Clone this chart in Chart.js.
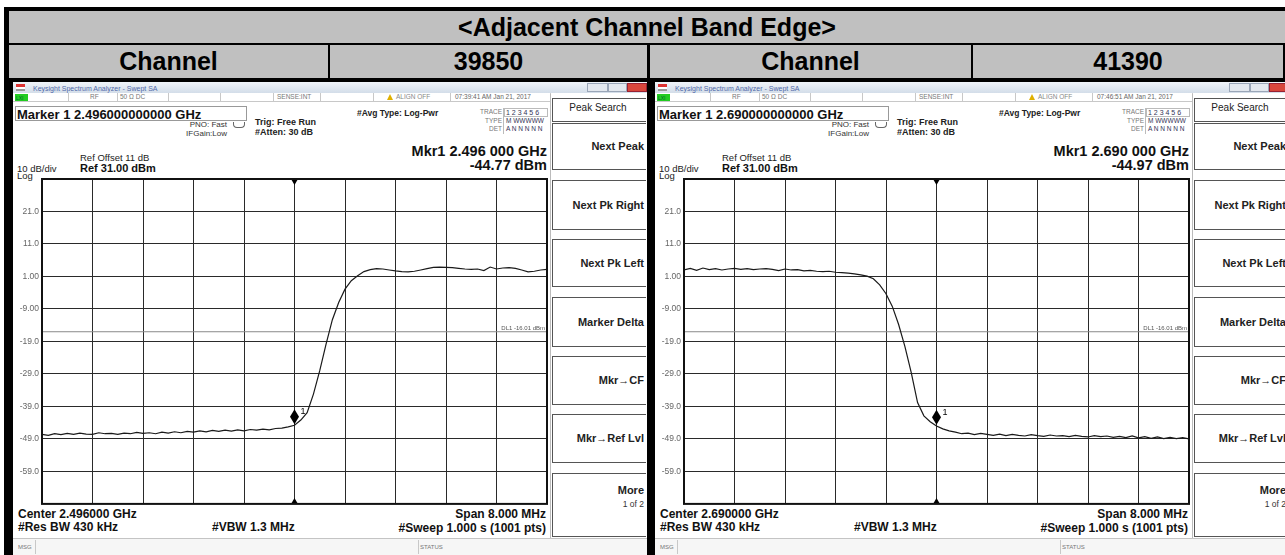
<!DOCTYPE html>
<html>
<head>
<meta charset="utf-8">
<script src="https://cdn.jsdelivr.net/npm/chart.js@4.4.1/dist/chart.umd.min.js"></script>
<style>
html, body { margin: 0; padding: 0; background: #fff; }
body { width: 1285px; height: 555px; position: relative; overflow: hidden; font-family: "Liberation Sans", Arial, sans-serif; }
.abs { position: absolute; }
.t { position: absolute; white-space: nowrap; }
.cell { position: absolute; display: flex; align-items: center; justify-content: center; font-weight: bold; font-size: 25px; color: #000; background: #c0c0c0; }
.panel { position: absolute; top: 82px; width: 634px; height: 473px; background: #fff; overflow: hidden; }
canvas { position: absolute; }
</style>
</head>
<body>
<div class="abs" style="left:4px;top:7px;width:1281px;height:548px;background:#000"></div>
<div class="cell" style="left:9px;top:11px;width:1276px;height:32px">&lt;Adjacent Channel Band Edge&gt;</div>
<div class="cell" id="c0" style="left:9px;top:45px;width:319px;height:33px"></div>
<div class="cell" id="c1" style="left:330px;top:45px;width:317px;height:33px"></div>
<div class="cell" id="c2" style="left:650px;top:45px;width:321px;height:33px"></div>
<div class="cell" id="c3" style="left:973px;top:45px;width:312px;height:33px;justify-content:flex-start;padding-left:0"></div>

<script>
// values
var channelNames = ['39850', '41390'];
var centerText = ['2.496000', '2.690000'];
var markerFreqText = ['2.496000000000', '2.690000000000'];
var mkrReadout = ['2.496 000', '2.690 000'];
var markerLevels = [-44.77, -44.97];
var clockText = ['07:39:41 AM Jan 21, 2017', '07:46:51 AM Jan 21, 2017'];
var dlLevel = -16.01;
var refLevel = 31.00;
var bottomLevel = -69.00;

// frequency offset from centre, MHz (span 8 MHz)
var freqOffsetsMHz = [
    -4.0, -3.9, -3.8, -3.7, -3.6, -3.5, -3.4, -3.3, -3.2, -3.1,
    -3.0, -2.9, -2.8, -2.7, -2.6, -2.5, -2.4, -2.3, -2.2, -2.1,
    -2.0, -1.9, -1.8, -1.7, -1.6, -1.5, -1.4, -1.3, -1.2, -1.1,
    -1.0, -0.9, -0.8, -0.7, -0.6, -0.5, -0.4, -0.3, -0.2, -0.1,
    0.0, 0.1, 0.2, 0.3, 0.4, 0.5, 0.6, 0.7, 0.8, 0.9,
    1.0, 1.1, 1.2, 1.3, 1.4, 1.5, 1.6, 1.7, 1.8, 1.9,
    2.0, 2.1, 2.2, 2.3, 2.4, 2.5, 2.6, 2.7, 2.8, 2.9,
    3.0, 3.1, 3.2, 3.3, 3.4, 3.5, 3.6, 3.7, 3.8, 3.9,
    4.0
];

// channel 39850 trace, dBm
var traceLow = [
    -47.6, -47.9, -47.4, -47.7, -47.3, -47.6, -47.2, -47.5, -47.6, -47.1,
    -47.4, -47.3, -47.6, -47.2, -47.4, -47.0, -47.3, -47.1, -47.4, -46.9,
    -47.2, -46.8, -47.1, -46.7, -46.9, -46.5, -46.8, -46.4, -46.7, -46.3,
    -46.6, -46.2, -46.5, -46.1, -46.3, -46.0, -46.2, -45.8, -45.7, -45.3,
    -44.8, -43.2, -40.9, -35.2, -28.0, -19.8, -12.3, -7.0, -2.9, -0.3,
    1.2, 2.5, 3.1, 3.4, 3.3, 3.0, 2.7, 2.5, 2.4, 2.6,
    3.0, 3.4, 3.8, 3.9, 3.8, 3.7, 3.5, 3.3, 3.2, 3.3,
    2.8, 3.9, 3.3, 3.6, 3.7, 3.5, 3.0, 2.4, 2.6, 3.0,
    3.2
];

// channel 41390 trace, dBm
var traceHigh = [
    3.0, 3.5, 2.9, 3.6, 3.1, 3.4, 3.0, 3.3, 3.5, 3.2,
    3.4, 3.1, 3.3, 3.4, 3.2, 2.8, 3.3, 3.0, 3.1, 2.7,
    2.9, 2.6, 2.5, 2.6, 2.3, 2.2, 2.0, 1.8, 1.5, 1.1,
    0.3, -1.6, -4.3, -8.2, -13.8, -20.6, -28.6, -37.8, -41.9, -43.7,
    -45.0, -45.9, -46.5, -46.9, -47.4, -47.2, -47.7, -47.3, -47.6, -47.9,
    -47.5, -48.0, -47.6, -47.9, -48.1, -47.7, -48.0, -48.2, -47.8, -48.1,
    -48.0, -48.3, -47.9, -48.2, -48.4, -48.0, -48.3, -48.1, -48.5, -48.2,
    -48.6, -48.1, -48.7, -48.3, -48.8, -48.4, -48.9, -48.5, -48.9, -48.6,
    -49.0
];

var yGridLevels = [-69, -59, -49, -39, -29, -19, -9, 1, 11, 21, 31];
var yTickText = ['', '-59.0', '-49.0', '-39.0', '-29.0', '-19.0', '-9.00', '1.00', '11.0', '21.0', ''];
var xGridMHz = [-4.0, -3.2, -2.4, -1.6, -0.8, 0.0, 0.8, 1.6, 2.4, 3.2, 4.0];

var menuLabels = ['Next Peak', 'Next Pk Right', 'Next Pk Left', 'Marker Delta', 'Mkr\u2192CF', 'Mkr\u2192Ref Lvl'];

document.getElementById('c0').textContent = 'Channel';
document.getElementById('c1').textContent = channelNames[0];
document.getElementById('c2').textContent = 'Channel';
var c3 = document.getElementById('c3');
c3.textContent = channelNames[1];
c3.style.justifyContent = 'center';
c3.style.width = '310px';

function txt(parent, s, x, base, size, opts) {
    opts = opts || {};
    var d = document.createElement('div');
    d.className = 't';
    d.textContent = s;
    d.style.fontSize = size + 'px';
    d.style.lineHeight = size + 'px';
    d.style.top = (base - 0.8465 * size) + 'px';
    d.style.left = x + 'px';
    if (opts.bold) d.style.fontWeight = 'bold';
    d.style.color = opts.color || '#111';
    if (opts.align == 'right') d.style.transform = 'translateX(-100%)';
    if (opts.align == 'center') d.style.transform = 'translateX(-50%)';
    parent.appendChild(d);
    return d;
}

function box(parent, x, y, w, h, css) {
    var d = document.createElement('div');
    d.className = 'abs';
    d.style.cssText = 'position:absolute;left:' + x + 'px;top:' + y + 'px;width:' + w + 'px;height:' + h + 'px;' + (css || '');
    parent.appendChild(d);
    return d;
}

// marker diamond, marker triangles, display line label and frame
var saPlugin = {
    id: 'saMarker',
    afterDatasetsDraw: function (chart, args, opts) {
        var ctx = chart.ctx;
        var area = chart.chartArea;
        var px = chart.scales.x.getPixelForValue(opts.freq);
        var py = chart.scales.y.getPixelForValue(opts.level);
        var dy = chart.scales.y.getPixelForValue(opts.dl);
        ctx.save();
        ctx.fillStyle = '#000';
        ctx.beginPath();
        ctx.moveTo(px, py - 16);
        ctx.lineTo(px + 4.5, py - 8.5);
        ctx.lineTo(px, py - 1);
        ctx.lineTo(px - 4.5, py - 8.5);
        ctx.closePath();
        ctx.fill();
        ctx.font = '9px "Liberation Sans", Arial, sans-serif';
        ctx.textAlign = 'left';
        ctx.fillText('1', px + 6, py - 11);

        ctx.beginPath();
        ctx.moveTo(px - 3.5, area.top);
        ctx.lineTo(px + 3.5, area.top);
        ctx.lineTo(px, area.top + 6);
        ctx.closePath();
        ctx.fill();
        ctx.beginPath();
        ctx.moveTo(px - 3.5, area.bottom);
        ctx.lineTo(px + 3.5, area.bottom);
        ctx.lineTo(px, area.bottom - 6);
        ctx.closePath();
        ctx.fill();

        ctx.fillStyle = '#555';
        ctx.font = '6px "Liberation Sans", Arial, sans-serif';
        ctx.textAlign = 'right';
        ctx.fillText('DL1 -16.01 dBm', area.right - 2, dy - 2);

        ctx.strokeStyle = '#111';
        ctx.lineWidth = 2;
        ctx.strokeRect(area.left, area.top, area.right - area.left, area.bottom - area.top);
        ctx.restore();
    }
};

function buildPanel(left, idx, trace) {
    var p = document.createElement('div');
    p.className = 'panel';
    p.style.left = left + 'px';
    document.body.appendChild(p);

    // window title bar
    box(p, 0, 0, 634, 11, 'background:linear-gradient(#f0f4f9,#d3dde9)');
    box(p, 3, 2, 9, 7, 'background:linear-gradient(#d33 0 40%,#fff 40% 65%,#999 65%)');
    txt(p, 'Keysight Spectrum Analyzer - Swept SA', 20, 8.5, 7, { color: '#5068a8' });
    box(p, 574, 1, 19, 7, 'background:#e3e8ef;border:1px solid #9aa6b8');
    box(p, 595, 1, 17, 7, 'background:#e3e8ef;border:1px solid #9aa6b8');
    box(p, 614, 1, 18, 7, 'background:#d8463c;border:1px solid #923');

    // status row
    box(p, 0, 11, 537, 8, 'border-bottom:1px solid #c8c8c8');
    box(p, 2, 12, 13, 7, 'background:#22cc22');
    txt(p, 'LXI', 3, 18, 5, { color: '#063' });
    var seps = [55, 104, 155, 207, 260, 307, 360, 437, 537];
    seps.forEach(function (x) { box(p, x, 11, 1, 8, 'background:#c8c8c8'); });
    txt(p, 'RF', 77, 17.5, 6.5, { color: '#777' });
    txt(p, '50 \u03a9  DC', 107, 17.5, 6.5, { color: '#777' });
    txt(p, 'SENSE:INT', 264, 17.5, 6.5, { color: '#777' });
    box(p, 374, 12, 0, 0, 'border-left:3.5px solid transparent;border-right:3.5px solid transparent;border-bottom:6px solid #e0b000');
    txt(p, 'ALIGN OFF', 383, 17.5, 6.5, { color: '#888' });
    txt(p, clockText[idx], 442, 17.5, 6.5, { color: '#666' });

    // marker line
    box(p, 2, 24, 232, 15, 'border:1px solid #999;box-sizing:border-box');
    txt(p, 'Marker 1 ' + markerFreqText[idx] + ' GHz', 4, 37, 13, { bold: true });
    txt(p, 'PNO: Fast', 214, 46, 8, { align: 'right', color: '#333' });
    txt(p, 'IFGain:Low', 214, 55, 8, { align: 'right', color: '#333' });
    box(p, 220, 40, 10, 5, 'border:1px solid #666;border-top:none;border-radius:0 0 4px 4px');
    txt(p, 'Trig: Free Run', 242, 44, 9, { bold: true, color: '#222' });
    txt(p, '#Atten: 30 dB', 242, 54, 9, { bold: true, color: '#222' });
    txt(p, '#Avg Type: Log-Pwr', 344, 34, 8.5, { bold: true, color: '#222' });

    // trace table
    txt(p, 'TRACE', 489, 33, 6.5, { align: 'right', color: '#777' });
    txt(p, 'TYPE', 489, 41.5, 6.5, { align: 'right', color: '#777' });
    txt(p, 'DET', 489, 50, 6.5, { align: 'right', color: '#777' });
    box(p, 490, 26, 1, 26, 'background:#bbb');
    box(p, 491, 26, 44, 9, 'border:1px solid #bbb;box-sizing:border-box');
    txt(p, '1 2 3 4 5 6', 493, 33, 7, { color: '#335' });
    txt(p, 'M WWWWW', 493, 41.5, 6.5, { color: '#335' });
    txt(p, 'A N N N N N', 493, 50, 6.5, { color: '#335' });

    // marker readout
    txt(p, 'Mkr1 ' + mkrReadout[idx] + ' GHz', 534, 74, 14.5, { bold: true, align: 'right' });
    txt(p, markerLevels[idx].toFixed(2) + ' dBm', 534, 88, 14.5, { bold: true, align: 'right' });

    txt(p, 'Ref Offset 11 dB', 67, 79, 9.5, { color: '#222' });
    txt(p, '10 dB/div', 4, 90, 9.5, { color: '#222' });
    txt(p, 'Ref ' + refLevel.toFixed(2) + ' dBm', 67, 90, 11, { bold: true });
    txt(p, 'Log', 4, 97, 9.5, { color: '#222' });

    // soft key menu
    box(p, 537, 12, 1, 444, 'background:#bbb');
    box(p, 539, 16, 94, 24, 'border:1px solid #555;box-sizing:border-box;border-right:none');
    txt(p, 'Peak Search', 585, 29, 10, { align: 'center', color: '#222' });
    var menuTops = [41, 98, 157, 215, 274, 332];
    var menuH = [47, 50, 48, 50, 49, 49];
    for (var i = 0; i < menuLabels.length; i++) {
        box(p, 539, menuTops[i], 94, menuH[i], 'border:1px solid #555;box-sizing:border-box;border-right:none');
        txt(p, menuLabels[i], 631, menuTops[i] + menuH[i] / 2 + 4, 11, { bold: true, align: 'right', color: '#222' });
    }
    box(p, 539, 391, 94, 64, 'border:1px solid #555;box-sizing:border-box;border-right:none');
    txt(p, 'More', 631, 412, 11, { bold: true, align: 'right', color: '#222' });
    txt(p, '1 of 2', 631, 425, 8.5, { align: 'right', color: '#333' });

    // bottom annotation
    txt(p, 'Center ' + centerText[idx] + ' GHz', 5, 436, 12, { bold: true });
    txt(p, '#Res BW 430 kHz', 5, 449, 12, { bold: true });
    txt(p, '#VBW 1.3 MHz', 199, 449, 12, { bold: true });
    txt(p, 'Span 8.000 MHz', 533, 436, 12, { bold: true, align: 'right' });
    txt(p, '#Sweep  1.000 s (1001 pts)', 533, 450, 12, { bold: true, align: 'right' });

    box(p, 0, 456, 634, 17, 'background:#f6f6f6;border-top:1px solid #c4c4c4');
    txt(p, 'MSG', 5, 467, 6, { color: '#777' });
    box(p, 22, 458, 1, 14, 'background:#c8c8c8');
    txt(p, 'STATUS', 407, 467, 6, { color: '#777' });
    box(p, 405, 458, 1, 14, 'background:#c8c8c8');

    // plot
    var cv = document.createElement('canvas');
    cv.width = 537;
    cv.height = 342;
    cv.style.left = '0px';
    cv.style.top = '88px';
    p.appendChild(cv);

    var traceData = freqOffsetsMHz.map(function (f, k) { return { x: f, y: trace[k] }; });
    var dlData = [
        { x: xGridMHz[0], y: dlLevel },
        { x: xGridMHz[xGridMHz.length - 1], y: dlLevel }
    ];

    new Chart(cv.getContext('2d'), {
        type: 'line',
        data: {
            datasets: [{
                data: traceData,
                borderColor: '#1a1a1a',
                borderWidth: 1.2,
                pointRadius: 0,
                tension: 0
            }, {
                data: dlData,
                borderColor: '#8a8a8a',
                borderWidth: 1,
                pointRadius: 0
            }]
        },
        options: {
            responsive: false,
            animation: false,
            devicePixelRatio: 1,
            layout: { padding: { top: 9, right: 3, bottom: 7, left: 0 } },
            plugins: {
                legend: { display: false },
                tooltip: { enabled: false },
                saMarker: { freq: 0, level: markerLevels[idx], dl: dlLevel }
            },
            scales: {
                x: {
                    type: 'linear',
                    min: xGridMHz[0],
                    max: xGridMHz[xGridMHz.length - 1],
                    afterBuildTicks: function (scale) {
                        scale.ticks = xGridMHz.map(function (v) { return { value: v }; });
                    },
                    afterFit: function (scale) { scale.height = 0; },
                    ticks: { display: false },
                    grid: { color: '#2a2a2a', lineWidth: 1, drawTicks: false },
                    border: { display: false }
                },
                y: {
                    min: bottomLevel,
                    max: refLevel,
                    afterBuildTicks: function (scale) {
                        scale.ticks = yGridLevels.map(function (v) { return { value: v }; });
                    },
                    afterFit: function (scale) { scale.width = 29; },
                    ticks: {
                        autoSkip: false,
                        padding: 3,
                        color: '#666',
                        font: { family: '"Liberation Sans", Arial, sans-serif', size: 8.5 },
                        callback: function (value) {
                            var i = yGridLevels.indexOf(value);
                            return i >= 0 ? yTickText[i] : '';
                        }
                    },
                    grid: { color: '#2a2a2a', lineWidth: 1, drawTicks: false },
                    border: { display: false }
                }
            }
        },
        plugins: [saPlugin]
    });
}

buildPanel(13, 0, traceLow);
buildPanel(655, 1, traceHigh);
</script>
</body>
</html>
